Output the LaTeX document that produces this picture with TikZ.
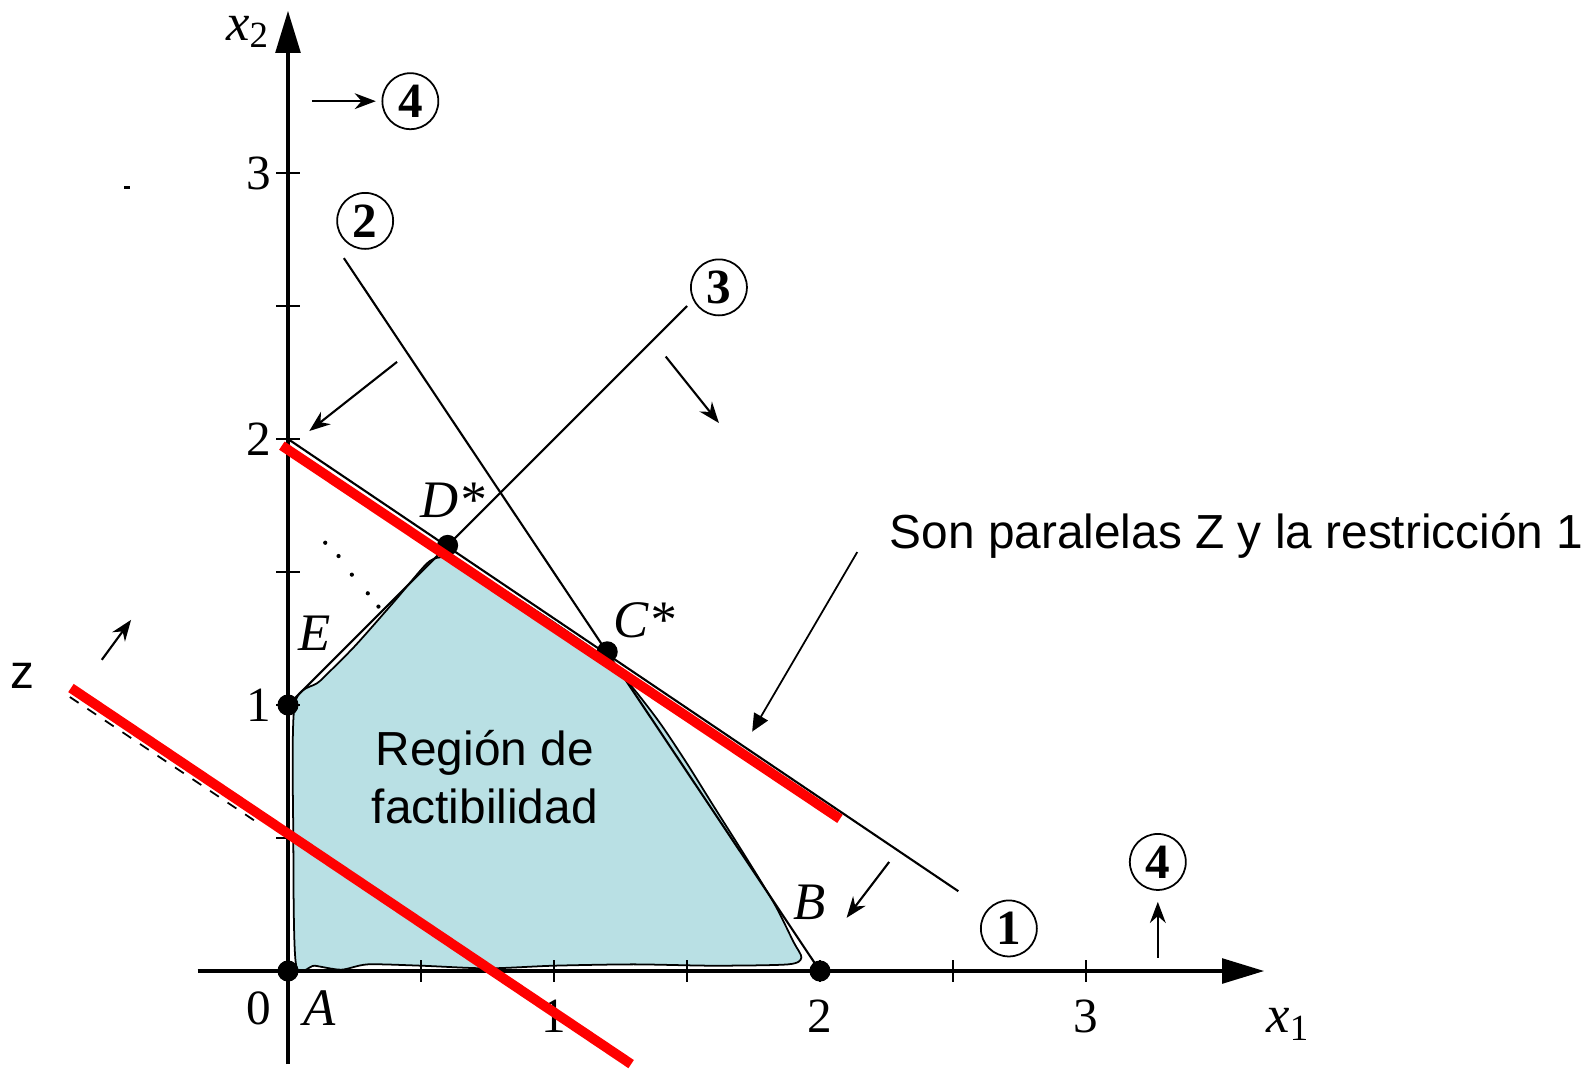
\documentclass[tikz,border=0pt]{standalone}
\usepackage{fontspec}
\setmainfont{Liberation Serif}
\newfontfamily\notefont{Liberation Sans}
\usetikzlibrary{arrows.meta,positioning}

\definecolor{regionblue}{RGB}{185,224,228}
\definecolor{zred}{RGB}{255,0,0}

\begin{document}
\begin{tikzpicture}[x=2.66cm, y=2.66cm,
  axis/.style={line width=1.1pt, -{Triangle[length=12pt,width=7pt]}},
  cons/.style={line width=0.6pt},
  zline/.style={line width=2.8pt, zred},
  dir/.style={line width=0.6pt, -{Stealth[length=6pt,width=4.5pt]}},
  pt/.style={circle, fill, inner sep=0pt, minimum size=6pt},
  circnum/.style={draw, circle, line width=0.5pt, minimum size=0.56cm, inner sep=0pt, font=\fontsize{14}{14}\selectfont\bfseries},
  lbl/.style={font=\fontsize{15}{15}\selectfont\itshape, inner sep=1pt},
  num/.style={font=\fontsize{14}{14}\selectfont, inner sep=1pt},
  note/.style={font=\notefont\fontsize{13.6}{16.5}\selectfont, align=center, inner sep=0pt},
  tickmark/.style={line width=0.6pt}
]
\useasboundingbox (-1.0827,-0.391) rectangle (4.8985,3.6504);

% Region de factibilidad
\filldraw[fill=regionblue, draw=black, line width=0.5pt] plot[smooth cycle, tension=0.45] coordinates {
  (0.03,0.025) (0.02,0.5) (0.025,1.0) (0.12,1.09) (0.25,1.22) (0.40,1.39)
  (0.52,1.53) (0.57,1.555) (0.63,1.545) (0.8,1.44) (1.0,1.31) (1.2,1.17)
  (1.30,1.06) (1.40,0.93) (1.50,0.78) (1.60,0.62) (1.72,0.43) (1.83,0.25)
  (1.90,0.11) (1.93,0.05) (1.88,0.025) (1.6,0.02) (1.3,0.025) (1.0,0.02)
  (0.75,0.01) (0.5,0.02) (0.30,0.025) (0.20,0.005) (0.10,0.02)};
\node[note] (region) at (0.74,0.73) {Región de\\factibilidad};

% Axes
\coordinate (xs) at (-0.34,0);
\coordinate (xe) at (3.67,0);
\coordinate (ys) at (0,-0.35);
\coordinate (ye) at (0,3.61);
\draw[axis] (xs) -- (xe);
\draw[axis] (ys) -- (ye);
\foreach \t in {0.5,1,...,3}{
  \draw[tickmark] (\t,-0.04) -- (\t,0.04);
  \draw[tickmark] (-0.045,\t) -- (0.045,\t);
}
\node[num] (x0) at (-0.11,-0.14) {0};
\foreach \t in {1,2,3}{
  \node[num] (xl\t) at (\t,-0.17) {\t};
  \node[num] (yl\t) at (-0.11,\t) {\t};
}
\node[lbl] (x1lab) at (3.76,-0.2) {x\textsubscript{\upshape 1}};
\node[lbl] (x2lab) at (-0.15,3.53) {x\textsubscript{\upshape 2}};

% Constraint lines
\coordinate (c1a) at (0,2);     \coordinate (c1b) at (2.52,0.30);
\coordinate (c2a) at (0.21,2.68); \coordinate (c2b) at (2,0);
\coordinate (c3a) at (0,1);     \coordinate (c3b) at (1.5,2.5);
\foreach \n in {c1,c2,c3}
  \draw[cons] (\n a) -- (\n b);

% Directions of the constraints
\coordinate (d1-s) at (2.26,0.41);  \coordinate (d1-e) at (2.10,0.20);
\coordinate (d2-s) at (0.41,2.29);  \coordinate (d2-e) at (0.08,2.03);
\coordinate (d3-s) at (1.42,2.31);  \coordinate (d3-e) at (1.62,2.06);
\coordinate (d4a-s) at (0.09,3.27); \coordinate (d4a-e) at (0.33,3.27);
\coordinate (d4b-s) at (3.27,0.05); \coordinate (d4b-e) at (3.27,0.26);
\coordinate (dz-s) at (-0.70,1.17); \coordinate (dz-e) at (-0.59,1.32);
\foreach \n in {d1,d2,d3,d4a,d4b,dz}
  \draw[dir] (\n-s) -- (\n-e);

% Circled constraint numbers
\node[circnum] (n1) at (2.71,0.16) {1};
\node[circnum] (n2) at (0.29,2.82) {2};
\node[circnum] (n3) at (1.62,2.57) {3};
\node[circnum] (n4a) at (0.46,3.27) {4};
\node[circnum] (n4b) at (3.27,0.41) {4};

% Corner points
\node[pt] (A) at (0,0) {};
\node[pt] (B) at (2,0) {};
\node[pt] (C) at (1.2,1.2) {};
\node[pt] (D) at (0.6,1.6) {};
\node[pt] (E) at (0,1) {};
\node[lbl] (Al) at (0.12,-0.14) {A};
\node[lbl] (Bl) at (1.96,0.26) {B};
\node[lbl] (Cl) at (1.34,1.32) {C*};
\node[lbl] (Dl) at (0.62,1.77) {D*};
\node[lbl] (El) at (0.10,1.27) {E};

% scan marks
\foreach \p in {(0.14,1.61),(0.19,1.56),(0.24,1.49),(0.30,1.42),(0.34,1.37)}
  \fill \p circle (0.6pt);
\fill (-0.615,2.95) rectangle (-0.595,2.94);

% Lineas de Z
\coordinate (zs) at (-0.82,1.03);  \coordinate (ze) at (-0.1,0.548);
\draw[line width=0.5pt, dashed] (zs) -- (ze);
\coordinate (z1a) at (-0.023,1.975); \coordinate (z1b) at (2.075,0.572);
\coordinate (z2a) at (-0.816,1.064); \coordinate (z2b) at (1.29,-0.35);
\draw[zline] (z1a) -- (z1b);
\draw[zline] (z2a) -- (z2b);
\node[note] (zlab) at (-1.0,1.11) {z};

% Nota
\node[note, anchor=west] (par) at (2.26,1.635) {Son paralelas Z y la restricción 1};
\coordinate (par-s) at (2.14,1.575);
\coordinate (par-e) at (1.745,0.90);
\draw[line width=0.5pt, -{Triangle[length=5pt,width=4.5pt]}] (par-s) -- (par-e);
\end{tikzpicture}
\end{document}
